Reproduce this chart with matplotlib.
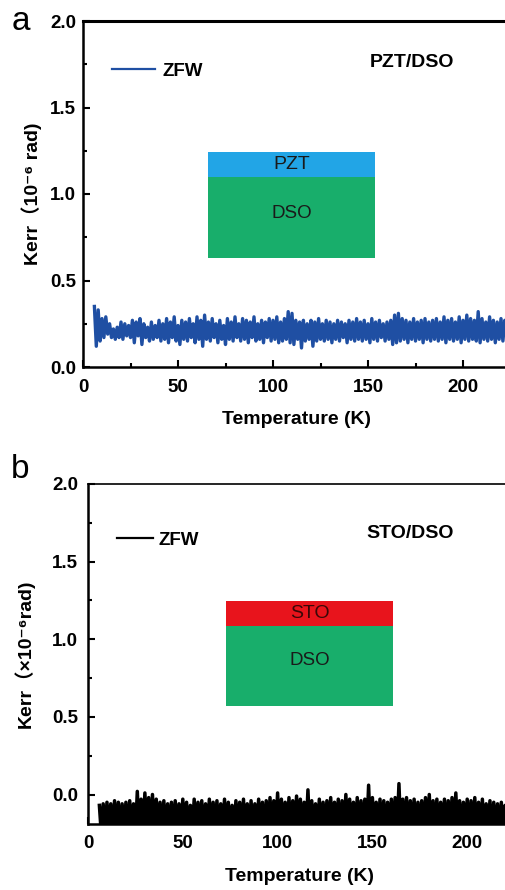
import numpy as np
import matplotlib
matplotlib.use("Agg")
import matplotlib.pyplot as plt
from matplotlib.patches import Rectangle
from matplotlib.ticker import MultipleLocator, FormatStrFormatter

plt.rcParams["font.family"] = ["Liberation Sans", "DejaVu Sans", "Noto Sans CJK SC"]

# ---- data: zero-field-warming Kerr signal vs temperature ----
temp_pzt = np.arange(6, 226, 1.0)
kerr_pzt = [
    0.35, 0.12, 0.33, 0.15, 0.28, 0.17, 0.29, 0.19, 0.25, 0.17, 0.22, 0.16, 0.23, 0.17, 0.26, 0.16, 0.25, 0.18, 0.24, 0.17,
    0.27, 0.14, 0.26, 0.18, 0.28, 0.13, 0.25, 0.17, 0.23, 0.15, 0.26, 0.16, 0.24, 0.17, 0.27, 0.15, 0.25, 0.16, 0.28, 0.14,
    0.26, 0.17, 0.29, 0.15, 0.24, 0.13, 0.27, 0.16, 0.26, 0.15, 0.28, 0.17, 0.25, 0.14, 0.29, 0.16, 0.27, 0.12, 0.30, 0.16,
    0.26, 0.15, 0.28, 0.17, 0.25, 0.14, 0.27, 0.16, 0.24, 0.13, 0.28, 0.16, 0.26, 0.15, 0.29, 0.17, 0.25, 0.15, 0.28, 0.16,
    0.27, 0.14, 0.26, 0.17, 0.29, 0.15, 0.25, 0.16, 0.27, 0.14, 0.26, 0.17, 0.28, 0.15, 0.27, 0.16, 0.29, 0.14, 0.26, 0.15,
    0.28, 0.16, 0.32, 0.14, 0.31, 0.13, 0.27, 0.16, 0.26, 0.11, 0.27, 0.15, 0.25, 0.16, 0.27, 0.12, 0.26, 0.15, 0.28, 0.16,
    0.25, 0.15, 0.27, 0.16, 0.26, 0.14, 0.25, 0.16, 0.27, 0.15, 0.26, 0.17, 0.25, 0.14, 0.27, 0.16, 0.26, 0.15, 0.28, 0.16,
    0.26, 0.15, 0.27, 0.16, 0.25, 0.14, 0.28, 0.16, 0.26, 0.15, 0.27, 0.17, 0.25, 0.15, 0.26, 0.16, 0.27, 0.13, 0.30, 0.14,
    0.31, 0.15, 0.28, 0.16, 0.27, 0.14, 0.26, 0.16, 0.28, 0.15, 0.26, 0.16, 0.27, 0.14, 0.28, 0.16, 0.26, 0.15, 0.27, 0.16,
    0.28, 0.15, 0.26, 0.16, 0.29, 0.14, 0.27, 0.16, 0.28, 0.15, 0.26, 0.16, 0.29, 0.14, 0.27, 0.16, 0.30, 0.15, 0.28, 0.16,
    0.27, 0.15, 0.32, 0.14, 0.28, 0.16, 0.26, 0.15, 0.29, 0.16, 0.27, 0.14, 0.26, 0.16, 0.28, 0.15, 0.27, 0.16, 0.28, 0.15,
]

temp_sto = np.arange(6, 226, 1.0)
kerr_sto = [
    -0.07, -0.25, -0.06, -0.26, -0.05, -0.24, -0.06, -0.27, -0.04, -0.25, -0.05, -0.26, -0.06, -0.24, -0.05, -0.27, -0.04, -0.25, -0.06, -0.26,
    0.02, -0.25, -0.03, -0.26, 0.01, -0.24, -0.02, -0.27, 0.00, -0.25, -0.03, -0.26, -0.05, -0.24, -0.04, -0.27, -0.06, -0.25, -0.05, -0.26,
    -0.04, -0.25, -0.06, -0.26, -0.03, -0.24, -0.05, -0.27, -0.07, -0.25, -0.03, -0.26, -0.05, -0.24, -0.04, -0.27, -0.06, -0.25, -0.03, -0.26,
    -0.05, -0.25, -0.04, -0.26, -0.06, -0.24, -0.03, -0.27, -0.05, -0.25, -0.07, -0.26, -0.04, -0.24, -0.05, -0.27, -0.03, -0.25, -0.06, -0.26,
    -0.04, -0.25, -0.06, -0.26, -0.03, -0.24, -0.05, -0.27, -0.04, -0.25, -0.02, -0.26, -0.04, -0.24, 0.01, -0.27, -0.03, -0.25, -0.05, -0.26,
    -0.02, -0.25, -0.04, -0.26, -0.01, -0.24, -0.03, -0.27, -0.05, -0.25, 0.03, -0.26, -0.04, -0.24, -0.06, -0.27, -0.03, -0.25, -0.05, -0.26,
    -0.04, -0.25, -0.02, -0.26, -0.05, -0.24, -0.03, -0.27, -0.04, -0.25, 0.00, -0.26, -0.03, -0.24, -0.05, -0.27, -0.02, -0.25, -0.04, -0.26,
    -0.03, -0.25, 0.06, -0.26, -0.02, -0.24, -0.05, -0.27, -0.03, -0.25, -0.04, -0.26, -0.05, -0.24, -0.03, -0.27, -0.02, -0.25, 0.07, -0.26,
    -0.03, -0.25, -0.02, -0.26, -0.04, -0.24, -0.03, -0.27, -0.05, -0.25, -0.04, -0.26, -0.02, -0.24, 0.00, -0.27, -0.04, -0.25, -0.03, -0.26,
    -0.05, -0.25, -0.03, -0.26, -0.04, -0.24, -0.02, -0.27, 0.01, -0.25, -0.04, -0.26, -0.05, -0.24, -0.03, -0.27, -0.04, -0.25, -0.02, -0.26,
    -0.05, -0.25, -0.03, -0.26, -0.06, -0.24, -0.04, -0.27, -0.05, -0.25, -0.06, -0.26, -0.05, -0.24, -0.07, -0.27, -0.05, -0.25, -0.06, -0.26,
]

x_ticks = [0, 50, 100, 150, 200]

W, H = 506, 890
fig = plt.figure(figsize=(W / 100, H / 100), dpi=100)


def px_box(left, top, right, bottom):
    return [left / W, 1 - bottom / H, (right - left) / W, (bottom - top) / H]


def style_axes(ax, top_lw, ypad, xpad):
    for side in ("left", "bottom"):
        ax.spines[side].set_linewidth(1.8)
    ax.spines["top"].set_linewidth(top_lw)
    ax.spines["right"].set_visible(False)
    ax.set_xticks(x_ticks)
    ax.xaxis.set_minor_locator(MultipleLocator(25))
    ax.yaxis.set_major_locator(MultipleLocator(0.5))
    ax.yaxis.set_minor_locator(MultipleLocator(0.25))
    ax.yaxis.set_major_formatter(FormatStrFormatter("%.1f"))
    ax.tick_params(which="both", direction="in", top=False, right=False, width=1.5)
    ax.tick_params(which="major", length=5)
    ax.tick_params(which="minor", length=3)
    ax.tick_params(axis="y", pad=ypad, labelsize=13.5)
    ax.tick_params(axis="x", pad=xpad, labelsize=13.5)
    for lab in ax.get_xticklabels() + ax.get_yticklabels():
        lab.set_fontweight("bold")


# ---- panel a: PZT/DSO ----
ax1 = fig.add_axes(px_box(83, 21, 83 + 475, 367))
ax1.plot(temp_pzt, kerr_pzt, color="#1f4fa3", lw=2.4, label="ZFW")
ax1.set_xlim(0, 250)
ax1.set_ylim(0, 2.0)
style_axes(ax1, 2.2, 5, 9)
ax1.set_xlabel("Temperature (K)", fontsize=14, fontweight="bold")
ax1.xaxis.set_label_coords(0.45, -0.128)
ax1.set_ylabel("Kerr（10⁻⁶ rad)", fontsize=14, fontweight="bold")
ax1.yaxis.set_label_coords(-0.087, 0.5)
leg1 = ax1.legend(loc="center left", bbox_to_anchor=(0.061, 0.855), frameon=False,
                  handlelength=2.3, handletextpad=0.37, borderpad=0, borderaxespad=0,
                  prop={"weight": "bold", "size": 13.5})
leg1.get_lines()[0].set_linewidth(1.6)
ax1.text(173, 1.76, "PZT/DSO", ha="center", va="center", fontsize=14, fontweight="bold")
ax1.add_patch(Rectangle((65.8, 1.098), 87.9, 0.145, facecolor="#22a5e6", edgecolor="none"))
ax1.add_patch(Rectangle((65.8, 0.63), 87.9, 0.468, facecolor="#18ae6b", edgecolor="none"))
ax1.text(109.7, 1.17, "PZT", ha="center", va="center", fontsize=14, color="#1a1a1a")
ax1.text(109.7, 0.89, "DSO", ha="center", va="center", fontsize=13.5, color="#1a1a1a")

# ---- panel b: STO/DSO ----
ax2 = fig.add_axes(px_box(88, 484, 88 + 474, 824))
ax2.plot(temp_sto, kerr_sto, color="black", lw=2.5, label="ZFW")
ax2.set_xlim(0, 250)
ax2.set_ylim(-0.19, 2.0)
style_axes(ax2, 1.2, 7, 8)
ax2.set_xlabel("Temperature (K)", fontsize=14, fontweight="bold")
ax2.xaxis.set_label_coords(0.447, -0.13)
ax2.set_ylabel("Kerr（×10⁻⁶rad)", fontsize=14, fontweight="bold")
ax2.yaxis.set_label_coords(-0.113, 0.5)
leg2 = ax2.legend(loc="center left", bbox_to_anchor=(0.061, 0.835), frameon=False,
                  handlelength=1.9, handletextpad=0.3, borderpad=0, borderaxespad=0,
                  prop={"weight": "bold", "size": 13.5})
leg2.get_lines()[0].set_linewidth(1.6)
ax2.text(170, 1.68, "STO/DSO", ha="center", va="center", fontsize=14, fontweight="bold")
ax2.add_patch(Rectangle((72.8, 1.084), 88.2, 0.161, facecolor="#e8141c", edgecolor="none"))
ax2.add_patch(Rectangle((72.8, 0.568), 88.2, 0.516, facecolor="#18ae6b", edgecolor="none"))
ax2.text(116.9, 1.165, "STO", ha="center", va="center", fontsize=14, color="#3a0808")
ax2.text(116.9, 0.86, "DSO", ha="center", va="center", fontsize=13.5, color="#1a1a1a")

# panel letters
fig.text(12 / W, 1 - 30 / H, "a", fontsize=24)
fig.text(11 / W, 1 - 478 / H, "b", fontsize=24)

fig.savefig("out.png", dpi=100)
